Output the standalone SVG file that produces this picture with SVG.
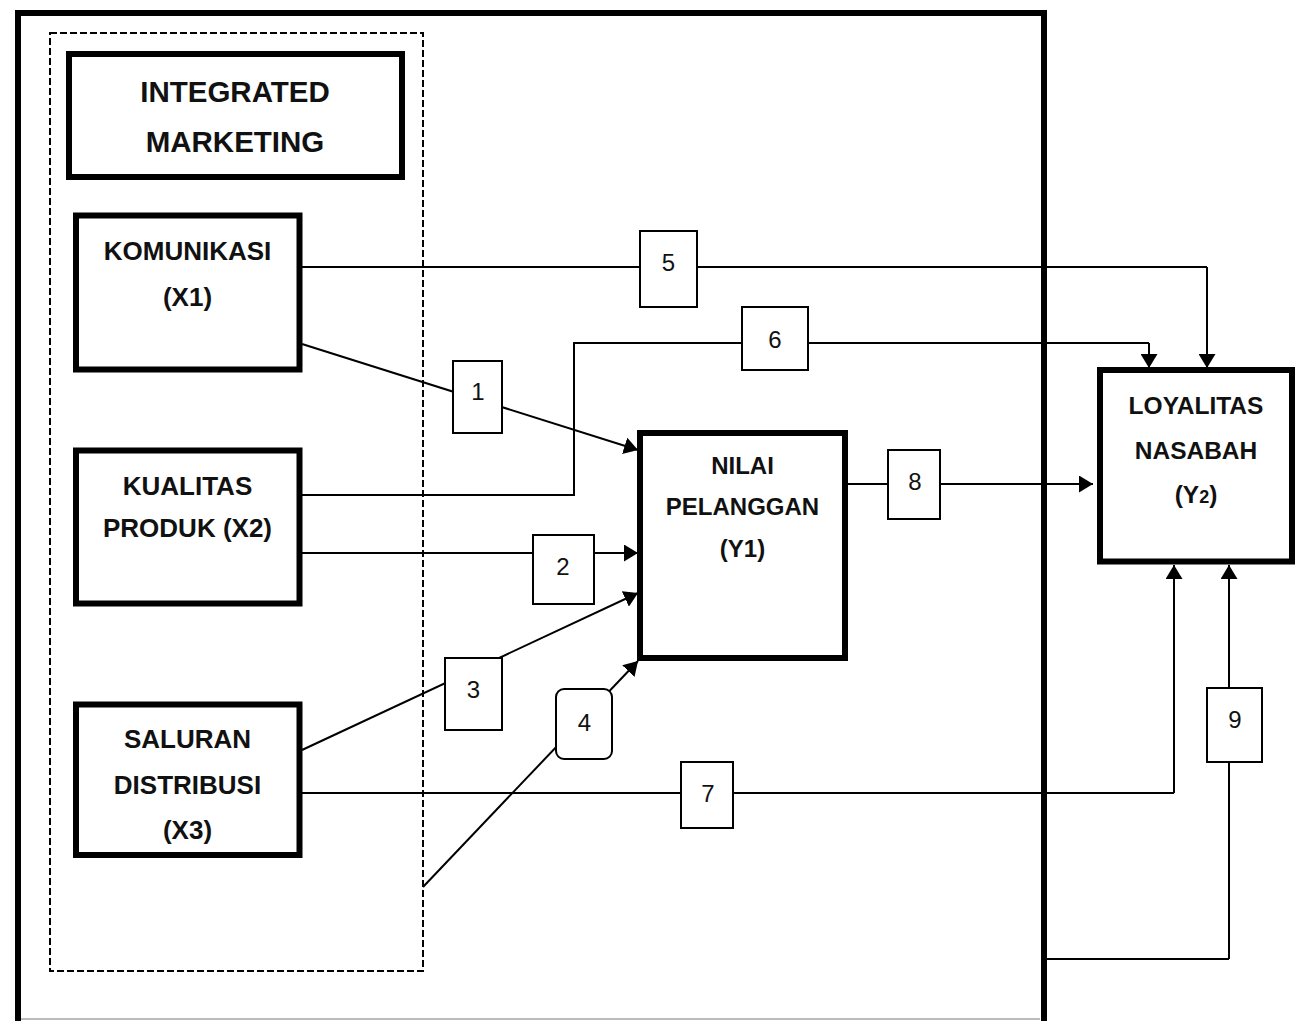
<svg xmlns="http://www.w3.org/2000/svg" width="1297" height="1021" viewBox="0 0 1297 1021">
<defs>
<marker id="arr" markerUnits="userSpaceOnUse" markerWidth="14" markerHeight="17" refX="14" refY="8.5" orient="auto">
<path d="M0,0 L14,8.5 L0,17 z" fill="#000"/>
</marker>
<style>
.node{fill:#fff;stroke:#000;stroke-width:6}
.lab{fill:#fff;stroke:#000;stroke-width:2}
.bt{font-family:"Liberation Sans",Arial,sans-serif;font-weight:bold;text-anchor:middle;fill:#111}
.nt{font-family:"Liberation Sans",Arial,sans-serif;font-size:24px;text-anchor:middle;fill:#111}
.ln{fill:none;stroke:#000;stroke-width:2}
.ar{fill:none;stroke:#000;stroke-width:2;marker-end:url(#arr)}
</style>
</defs>
<rect width="1297" height="1021" fill="#fff"/>
<g id="frame">
<path d="M18,1021 V13 H1044 V1021" fill="none" stroke="#000" stroke-width="6"/>
<line x1="21" y1="1019" x2="1040" y2="1019" stroke="#bbb" stroke-width="2"/>
<rect x="50" y="33" width="373" height="938" fill="none" stroke="#000" stroke-width="2" stroke-dasharray="7,3"/>
</g>
<g id="connectors">
<path class="ln" d="M302,267 H1207"/>
<path class="ar" d="M1207,267 V368"/>
<path class="ln" d="M302,495 H574 V343 H1149"/>
<path class="ar" d="M1149,343 V368"/>
<path class="ar" d="M302,344 L638,450"/>
<path class="ar" d="M302,553 H638"/>
<path class="ar" d="M302,750 L638,593"/>
<path class="ar" d="M423,887 L638,661"/>
<path class="ln" d="M302,793 H1174"/>
<path class="ar" d="M1174,793 V565"/>
<path class="ar" d="M848,484 H1093"/>
<path class="ln" d="M1047,959 H1229"/>
<path class="ar" d="M1229,959 V565"/>
</g>
<g id="integrated-marketing">
<rect class="node" x="69" y="54" width="333" height="123"/>
<text class="bt" x="235" y="101.5" font-size="29.5">INTEGRATED</text>
<text class="bt" x="235" y="152" font-size="29.5">MARKETING</text>
</g>
<g id="x1">
<rect class="node" x="76" y="215.5" width="223.5" height="154"/>
<text class="bt" x="187.5" y="260" font-size="26">KOMUNIKASI</text>
<text class="bt" x="187.5" y="306" font-size="26">(X1)</text>
</g>
<g id="x2">
<rect class="node" x="76" y="450.5" width="223.5" height="153"/>
<text class="bt" x="187.5" y="495" font-size="26">KUALITAS</text>
<text class="bt" x="187.5" y="537" font-size="26">PRODUK (X2)</text>
</g>
<g id="x3">
<rect class="node" x="76" y="704.5" width="223.5" height="150.5"/>
<text class="bt" x="187.5" y="748" font-size="26">SALURAN</text>
<text class="bt" x="187.5" y="794" font-size="26">DISTRIBUSI</text>
<text class="bt" x="187.5" y="839" font-size="26">(X3)</text>
</g>
<g id="y1">
<rect class="node" x="640" y="433" width="205" height="225"/>
<text class="bt" x="742.5" y="474" font-size="24">NILAI</text>
<text class="bt" x="742.5" y="515" font-size="24">PELANGGAN</text>
<text class="bt" x="742.5" y="557" font-size="24">(Y1)</text>
</g>
<g id="y2">
<rect class="node" x="1100" y="370" width="192" height="191.5"/>
<text class="bt" x="1196" y="414" font-size="24.5">LOYALITAS</text>
<text class="bt" x="1196" y="459" font-size="24.5">NASABAH</text>
<text class="bt" x="1196" y="503" font-size="24.5">(Y<tspan font-size="18">2</tspan>)</text>
</g>
<g id="label-1"><rect class="lab" x="453" y="361" width="49" height="72"/><text class="nt" x="478" y="400">1</text></g>
<g id="label-2"><rect class="lab" x="533" y="535" width="61" height="69"/><text class="nt" x="563" y="575">2</text></g>
<g id="label-3"><rect class="lab" x="445" y="658" width="57" height="72"/><text class="nt" x="473.5" y="698">3</text></g>
<g id="label-4"><rect class="lab" x="556" y="689" width="56" height="70" rx="8"/><text class="nt" x="584.5" y="731">4</text></g>
<g id="label-5"><rect class="lab" x="640" y="231" width="57" height="76"/><text class="nt" x="668.5" y="271">5</text></g>
<g id="label-6"><rect class="lab" x="742" y="307" width="66" height="63"/><text class="nt" x="775" y="348">6</text></g>
<g id="label-7"><rect class="lab" x="681" y="762" width="52" height="66"/><text class="nt" x="708" y="802">7</text></g>
<g id="label-8"><rect class="lab" x="888" y="450" width="52" height="69"/><text class="nt" x="915" y="490">8</text></g>
<g id="label-9"><rect class="lab" x="1207" y="688" width="55" height="74"/><text class="nt" x="1235" y="728">9</text></g>
</svg>
